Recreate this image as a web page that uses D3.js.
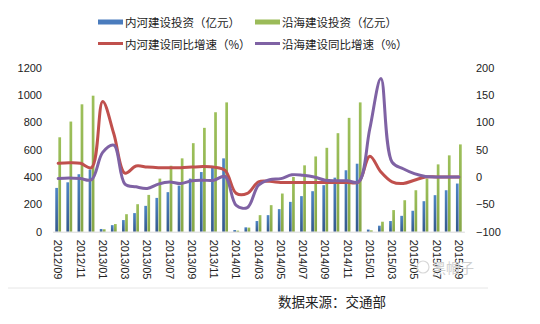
<!DOCTYPE html>
<html>
<head>
<meta charset="utf-8">
<script src="https://cdn.jsdelivr.net/npm/d3@7"></script>
<style>
  html, body { margin: 0; padding: 0; background: #fff; }
  svg { display: block; }
</style>
</head>
<body>
<svg id="chart" width="540" height="324"></svg>
<script>
// Monthly port construction investment, 2012/09 – 2015/09
const months = [
  "2012/09","2012/10","2012/11","2012/12",
  "2013/01","2013/02","2013/03","2013/04","2013/05","2013/06","2013/07","2013/08","2013/09","2013/10","2013/11","2013/12",
  "2014/01","2014/02","2014/03","2014/04","2014/05","2014/06","2014/07","2014/08","2014/09","2014/10","2014/11","2014/12",
  "2015/01","2015/02","2015/03","2015/04","2015/05","2015/06","2015/07","2015/08","2015/09"
];

// Cumulative investment (亿元)
const inlandInvest = [320, 361, 420, 455, 20, 48, 85, 136, 189, 247, 289, 337, 388, 436, 482, 536,
  12, 32, 78, 121, 165, 218, 260, 296, 340, 395, 449, 497, 16, 44, 78, 116, 153, 223, 267, 303, 352];
const coastalInvest = [690, 805, 931, 994, 18, 56, 128, 201, 269, 388, 482, 536, 647, 759, 873, 945,
  8, 30, 121, 194, 279, 400, 485, 550, 613, 720, 832, 945, 10, 73, 158, 230, 303, 388, 492, 558, 638];

// Year-on-year growth (%)
const inlandGrowth = [25, 26, 25, 17, 138, 79, 7, 20, 18, 17, 17, 17, 18, 19, 18, 12,
  -30, -30, -9, -8, -10, -10, -10, -10, -10, -10, -10, -9, 38, 9, -9, -12, -6, 0, 0, 0, 0];
const coastalGrowth = [-3, -2, -3, -5, 45, 58, -13, -18, -21, -13, -9, -12, -7, -6, -6, 1,
  -52, -56, -15, -5, -3, 4, 3, 0, -6, -7, -7, -9, 88, 180, 27, 15, 6, 1, 0, 0, 0];

const seriesNames = ["内河建设投资（亿元）", "沿海建设投资（亿元）", "内河建设同比增速（%）", "沿海建设同比增速（%）"];
const leftTicks = [0, 200, 400, 600, 800, 1000, 1200];
const rightTicks = [-100, -50, 0, 50, 100, 150, 200];
const sourceNote = "数据来源：交通部";

const colors = { inland: "#4a7cbd", coastal: "#9bbb59", inlandLine: "#c0504d", coastalLine: "#7f62a4" };

const svg = d3.select("#chart");
const plotTop = 67.5, plotBottom = 231.7, plotLeft = 52.6, plotRight = 464.4;

const x = d3.scaleBand().domain(months).range([plotLeft, plotRight]).padding(0);
const yL = d3.scaleLinear().domain([0, 1200]).range([plotBottom, plotTop]);
const yR = d3.scaleLinear().domain([-100, 200]).range([plotBottom, plotTop]);
const cx = m => x(m) + x.bandwidth() / 2;

// gradients for the bars (darker toward the base)
const defs = svg.append("defs");
const gB = defs.append("linearGradient").attr("id", "gBlue").attr("x1", 0).attr("y1", 0).attr("x2", 0).attr("y2", 1);
gB.append("stop").attr("offset", "0%").attr("stop-color", "#4f86c6");
gB.append("stop").attr("offset", "100%").attr("stop-color", "#34598c");
const gG = defs.append("linearGradient").attr("id", "gGreen").attr("x1", 0).attr("y1", 0).attr("x2", 0).attr("y2", 1);
gG.append("stop").attr("offset", "0%").attr("stop-color", "#9dc05a");
gG.append("stop").attr("offset", "100%").attr("stop-color", "#86a748");

const barW = 2.7;

// bars
svg.append("g").selectAll("rect").data(months).join("rect")
  .attr("x", m => cx(m) - barW - 0.2)
  .attr("y", (m, i) => yL(inlandInvest[i]))
  .attr("width", barW)
  .attr("height", (m, i) => plotBottom - yL(inlandInvest[i]))
  .attr("fill", "url(#gBlue)");

svg.append("g").selectAll("rect").data(months).join("rect")
  .attr("x", m => cx(m) + 0.2)
  .attr("y", (m, i) => yL(coastalInvest[i]))
  .attr("width", barW)
  .attr("height", (m, i) => plotBottom - yL(coastalInvest[i]))
  .attr("fill", "url(#gGreen)");

// smoothed growth lines
const line = vals => d3.line()
  .x(d => cx(d))
  .y((d, i) => yR(vals[i]))
  .curve(d3.curveCatmullRom.alpha(0.5))(months);

svg.append("path").attr("d", line(inlandGrowth))
  .attr("fill", "none").attr("stroke", colors.inlandLine).attr("stroke-width", 3)
  .attr("stroke-linejoin", "round").attr("stroke-linecap", "round");
svg.append("path").attr("d", line(coastalGrowth))
  .attr("fill", "none").attr("stroke", colors.coastalLine).attr("stroke-width", 3)
  .attr("stroke-linejoin", "round").attr("stroke-linecap", "round");

// axes
const axisFont = "'Liberation Sans', Arial, sans-serif";
const gl = svg.append("g").attr("transform", "translate(45,0)")
  .call(d3.axisLeft(yL).tickValues(leftTicks).tickSize(0).tickPadding(3).tickFormat(d3.format("d")));
gl.select(".domain").remove();
gl.selectAll("text").attr("font-family", axisFont).attr("font-size", 11).attr("fill", "#222");

const gr = svg.append("g").attr("transform", "translate(473,0)")
  .call(d3.axisRight(yR).tickValues(rightTicks).tickSize(0).tickPadding(3).tickFormat(d3.format("d")));
gr.select(".domain").remove();
gr.selectAll("text").attr("font-family", axisFont).attr("font-size", 11).attr("fill", "#222");

const gx = svg.append("g").attr("transform", `translate(0,${plotBottom})`)
  .call(d3.axisBottom(x).tickValues(months.filter((m, i) => i % 2 === 0)).tickSize(0));
gx.select(".domain").attr("stroke", "#d9d9d9");
gx.selectAll("text")
  .attr("font-family", axisFont).attr("font-size", 11).attr("fill", "#222")
  .attr("transform", "rotate(90)")
  .attr("x", 8).attr("y", 0).attr("dy", "0.35em")
  .attr("text-anchor", "start");

// legend
const cjk = "'Noto Sans CJK SC', sans-serif";
const legend = svg.append("g").attr("font-family", cjk).attr("font-size", 11.5).attr("fill", "#222");
const legendItems = [
  { name: seriesNames[0], type: "rect", color: colors.inland, x: 98, y: 22 },
  { name: seriesNames[1], type: "rect", color: colors.coastal, x: 255, y: 22 },
  { name: seriesNames[2], type: "line", color: colors.inlandLine, x: 98, y: 43.5 },
  { name: seriesNames[3], type: "line", color: colors.coastalLine, x: 255, y: 43.5 }
];
legendItems.forEach(it => {
  if (it.type === "rect") {
    legend.append("rect").attr("x", it.x).attr("y", it.y - 2.5).attr("width", 25).attr("height", 5).attr("fill", it.color);
  } else {
    legend.append("line").attr("x1", it.x).attr("x2", it.x + 25).attr("y1", it.y).attr("y2", it.y)
      .attr("stroke", it.color).attr("stroke-width", 3);
  }
  legend.append("text").attr("x", it.x + 27).attr("y", it.y).attr("dominant-baseline", "central").text(it.name);
});

// footer rule and source
svg.append("line").attr("x1", 8).attr("x2", 488).attr("y1", 288).attr("y2", 288)
  .attr("stroke", "#e6e6e6").attr("stroke-width", 1);
svg.append("text").attr("x", 278).attr("y", 301).attr("dominant-baseline", "central")
  .attr("font-family", cjk).attr("font-size", 13.5).attr("fill", "#222").text(sourceNote);

// faint account mark
svg.append("circle").attr("cx", 423).attr("cy", 267).attr("r", 6).attr("fill", "none").attr("stroke", "#d8d8d8").attr("stroke-width", 1.2);
svg.append("text").attr("x", 432).attr("y", 267).attr("dominant-baseline", "central")
  .attr("font-family", cjk).attr("font-size", 14).attr("fill", "#cfcfcf").text("黑帽子");
</script>
</body>
</html>
